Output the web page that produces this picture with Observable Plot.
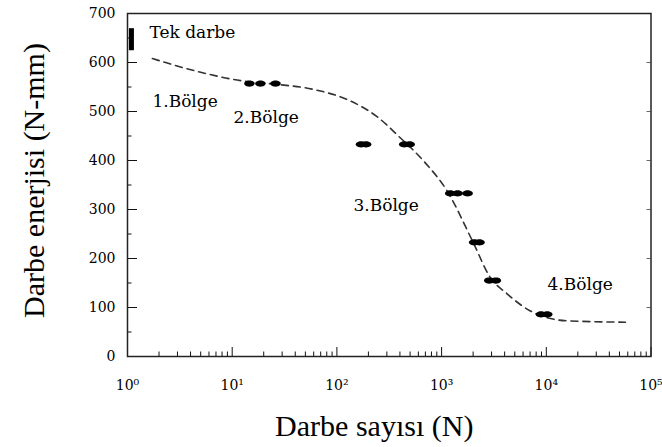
<!DOCTYPE html>
<html><head><meta charset="utf-8">
<script src="https://cdn.jsdelivr.net/npm/d3@7"></script>
<script src="https://cdn.jsdelivr.net/npm/@observablehq/plot@0.6"></script>
<style>body{margin:0;background:#fff}</style>
</head><body><div id="chart"></div>
<script>
// Single-impact bar (Tek darbe) at N = 1
const singleN = [1.09];
const singleLow = [624];
const singleHigh = [669];

// Measured points: impact count vs impact energy
const pointN = [14.6, 18.6, 25.9, 170, 190, 440, 495, 1210, 1420, 1770, 2050, 2300, 2850, 3300, 8900, 10200];
const pointE = [557, 557, 557, 433, 433, 433, 433, 333, 333, 333, 233, 233, 155, 155, 86, 86];

// Dashed fitted curve
const curveN = [1.73, 5, 12, 25, 60, 133, 240, 400, 680, 1120, 2000, 2900, 4170, 6900, 15500, 57000];
const curveE = [608, 580, 563, 556, 545, 522, 490, 447, 398, 339, 233, 162, 129, 94, 73, 70];

// Region labels
const labelText = ["Tek darbe", "1.Bölge", "2.Bölge", "3.Bölge", "4.Bölge"];
const labelN = [1.62, 1.73, 10.3, 144, 10270];
const labelE = [649, 510, 476, 296, 135];

// Axis ticks
const xMajor = [1, 10, 100, 1000, 10000, 100000];
const xMinor = [2,3,4,5,6,7,8,9,20,30,40,50,60,70,80,90,200,300,400,500,600,700,800,900,2000,3000,4000,5000,6000,7000,8000,9000,20000,30000,40000,50000,60000,70000,80000,90000];
const yMajor = [0, 100, 200, 300, 400, 500, 600, 700];
const yMinor = [50, 150, 250, 350, 450, 550, 650];
const xTitle = "Darbe sayısı (N)";
const yTitle = "Darbe enerjisi (N-mm)";

const sup = {"0":"⁰","1":"¹","2":"²","3":"³","4":"⁴","5":"⁵"};
const points = pointN.map((n, i) => ({n, e: pointE[i]}));
const curve = curveN.map((n, i) => ({n, e: curveE[i]}));
const labels = labelText.map((t, i) => ({t, n: labelN[i], e: labelE[i]}));
const single = singleN.map((n, i) => ({n, lo: singleLow[i], hi: singleHigh[i]}));

// horizontally elongated blob symbol
const blob = {
  draw(context, size) {
    const r = Math.sqrt(size / Math.PI);
    const rx = r * 1.7, ry = r;
    for (let k = 0; k <= 24; ++k) {
      const a = (k / 24) * 2 * Math.PI;
      const px = rx * Math.cos(a), py = ry * Math.sin(a);
      if (k === 0) context.moveTo(px, py); else context.lineTo(px, py);
    }
    context.closePath();
  }
};

const W = 662, H = 447, ml = 127, mr = 11.5, mt = 13, mb = 91;
const fw = W - ml - mr, fh = H - mt - mb;

const chart = Plot.plot({
  width: W, height: H,
  marginLeft: ml, marginRight: mr, marginTop: mt, marginBottom: mb,
  style: {fontFamily: "DejaVu Serif", fontSize: "14px", background: "#fff", color: "#000"},
  x: {type: "log", domain: [1, 100000]},
  y: {domain: [0, 700]},
  marks: [
    Plot.axisX(xMajor, {tickSize: 0, tickPadding: 24, tickFormat: d => "10" + sup[String(Math.round(Math.log10(d)))], label: null, fontSize: 14}),
    Plot.axisY(yMajor, {tickSize: 0, tickPadding: 12, label: null, fontSize: 14}),
    // inward ticks
    Plot.ruleX(xMajor, {x: d => d, insetTop: fh - 9, stroke: "#111"}),
    Plot.ruleX(xMinor, {x: d => d, insetTop: fh - 4.5, stroke: "#111"}),
    Plot.ruleY(yMajor, {y: d => d, insetRight: fw - 10, stroke: "#111"}),
    Plot.ruleY(yMinor, {y: d => d, insetRight: fw - 4.5, stroke: "#111"}),
    Plot.ruleY(yMajor, {y: d => d, insetLeft: fw - 4, stroke: "#666"}),
    Plot.frame({stroke: "#222", strokeWidth: 1.5}),
    Plot.line(curve, {x: "n", y: "e", curve: "monotone-x", stroke: "#333", strokeWidth: 1.6, strokeDasharray: "7,5"}),
    Plot.ruleX(single, {x: "n", y1: "lo", y2: "hi", stroke: "#000", strokeWidth: 5}),
    Plot.dot(points, {x: "n", y: "e", r: 3.1, symbol: blob, fill: "#000", stroke: "none"}),
    Plot.text(labels, {x: "n", y: "e", text: "t", textAnchor: "start", lineAnchor: "bottom", fontSize: 17, fontFamily: "DejaVu Serif", fill: "#000"}),
    Plot.text([xTitle], {frameAnchor: "bottom", textAnchor: "middle", dx: -15, dy: 70, lineAnchor: "middle", fontSize: 30, fontFamily: "Liberation Serif", fill: "#000"}),
    Plot.text([yTitle], {frameAnchor: "left", textAnchor: "middle", dx: -93.6, dy: -4.5, rotate: -90, lineAnchor: "middle", fontSize: 30, fontFamily: "Liberation Serif", fill: "#000"})
  ]
});
document.getElementById("chart").append(chart);
</script>
</body></html>
